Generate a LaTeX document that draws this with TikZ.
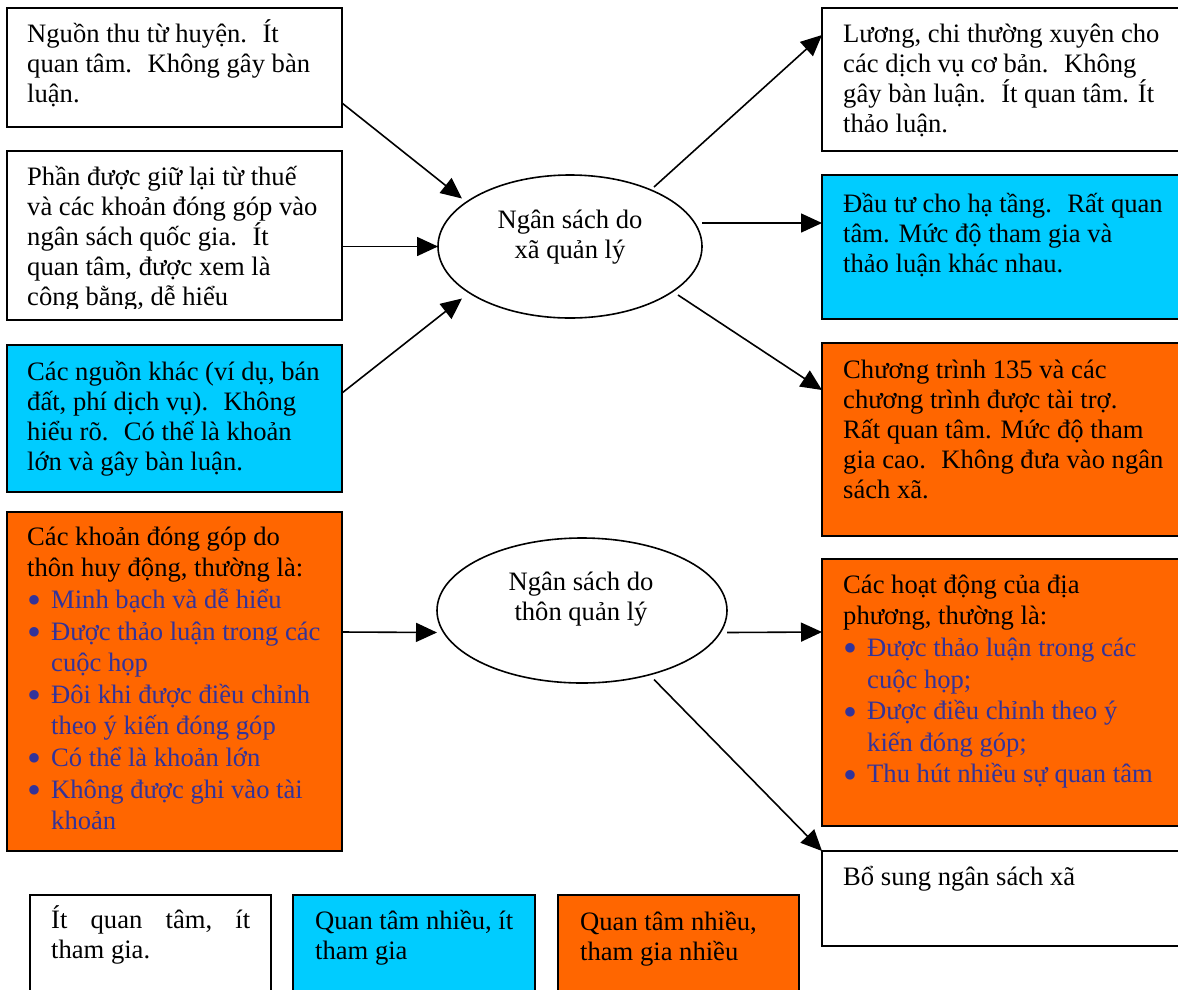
\documentclass[tikz,border=0pt]{standalone}
\usepackage{fontspec}
\usepackage{graphicx}
\setmainfont{Liberation Serif}
\usetikzlibrary{arrows.meta,calc,shapes.geometric}
\definecolor{cyanbox}{RGB}{0,204,255}
\definecolor{orangebox}{RGB}{255,102,0}
\definecolor{tblue}{RGB}{51,51,153}
\newcommand\fst{\rule{0pt}{25pt}}
\newcommand\blt{\makebox[24pt][l]{\hspace{0pt}\raisebox{-5.5pt}{\scalebox{1.5}{\textbullet}}}}
\newcommand\bind{\hspace*{24pt}}
\newcommand\fonta{\fontsize{26.6}{30}\selectfont\lineskiplimit=-100pt\relax\lineskip=0pt\relax}
\newcommand\fontb{\fontsize{26.6}{31.6}\selectfont\lineskiplimit=-100pt\relax\lineskip=0pt\relax}
\begin{document}
\begin{tikzpicture}[x=1pt,y=-1pt,
  box/.style={draw=black, line width=1.8pt, anchor=north west, inner sep=0pt, outer sep=0pt},
  txt/.style={anchor=north west, inner sep=0pt, align=left, font=\fonta},
  txtb/.style={anchor=north west, inner sep=0pt, align=left, font=\fontb},
  etxt/.style={anchor=north, inner sep=0pt, align=center, font=\fonta},
  ell/.style={draw=black, line width=1.6pt, ellipse, inner sep=0pt, outer sep=0pt},
  arr/.style={line width=1.6pt, -{Triangle[length=21pt,width=19pt]}},
]
\useasboundingbox (0,0) rectangle (1178,989);
\fill[white] (0,0) rectangle (1178,989);

% boxes
\node[box, minimum width=335pt, minimum height=119pt] (b1) at (7,8) {};
\node[box, minimum width=335pt, minimum height=169pt] (b2) at (7,151) {};
\node[box, fill=cyanbox, minimum width=335pt, minimum height=147pt] (b3) at (7,345) {};
\node[box, fill=orangebox, minimum width=335pt, minimum height=339pt] (b4) at (7,512) {};
\node[box, minimum width=380pt, minimum height=143pt] (r1) at (822,8) {};
\node[box, fill=cyanbox, minimum width=380pt, minimum height=144pt] (r2) at (822,175) {};
\node[box, fill=orangebox, minimum width=380pt, minimum height=193pt] (r3) at (822,343) {};
\node[box, fill=orangebox, minimum width=380pt, minimum height=267pt] (r4) at (822,559) {};
\node[box, minimum width=380pt, minimum height=95pt] (r5) at (822,851) {};
\node[box, minimum width=241pt, minimum height=120pt] (l1) at (30,895) {};
\node[box, fill=cyanbox, minimum width=242pt, minimum height=120pt] (l2) at (293,895) {};
\node[box, fill=orangebox, minimum width=241pt, minimum height=120pt] (l3) at (558,895) {};

% ellipses
\node[ell, minimum width=264pt, minimum height=143pt] (e1) at (570,246.5) {};
\node[ell, minimum width=290pt, minimum height=145pt] (e2) at (582,610.5) {};

% texts
\node[txt] (b1t) at (27,17) {\fst Nguồn thu từ huyện.~ Ít\\quan tâm.~ Không gây bàn\\luận.};
\begin{scope}
\clip (8,152) rectangle (341,308);
\node[txt] (b2t) at (27,160) {\fst Phần được giữ lại từ thuế\\và các khoản đóng góp vào\\ngân sách quốc gia.~ Ít\\quan tâm, được xem là\\công bằng, dễ hiểu};
\end{scope}
\node[txt] (b3t) at (27,355) {\fst Các nguồn khác (ví dụ, bán\\đất, phí dịch vụ).~ Không\\hiểu rõ.~ Có thể là khoản\\lớn và gây bàn luận.};
\node[txtb] (b4t) at (27,520) {\fst Các khoản đóng góp do\\thôn huy động, thường là:\\
  \color{tblue}\blt Minh bạch và dễ hiểu\\
  \color{tblue}\blt Được thảo luận trong các\\
  \color{tblue}\bind cuộc họp\\
  \color{tblue}\blt Đôi khi được điều chỉnh\\
  \color{tblue}\bind theo ý kiến đóng góp\\
  \color{tblue}\blt Có thể là khoản lớn\\
  \color{tblue}\blt Không được ghi vào tài\\
  \color{tblue}\bind khoản};
\node[txt] (r1t) at (843,17) {\fst Lương, chi thường xuyên cho\\các dịch vụ cơ bản.~ Không\\gây bàn luận.~ Ít quan tâm. Ít\\thảo luận.};
\node[txt] (r2t) at (843,187) {\fst Đầu tư cho hạ tầng.~ Rất quan\\tâm. Mức độ tham gia và\\thảo luận khác nhau.};
\node[txt] (r3t) at (843,353) {\fst Chương trình 135 và các\\chương trình được tài trợ.\\Rất quan tâm. Mức độ tham\\gia cao.~ Không đưa vào ngân\\sách xã.};
\node[txtb] (r4t) at (843,568) {\fst Các hoạt động của địa\\phương, thường là:\\
  \color{tblue}\blt Được thảo luận trong các\\
  \color{tblue}\bind cuộc họp;\\
  \color{tblue}\blt Được điều chỉnh theo ý\\
  \color{tblue}\bind kiến đóng góp;\\
  \color{tblue}\blt Thu hút nhiều sự quan tâm};
\node[txt] (r5t) at (843,860) {\fst Bổ sung ngân sách xã};
\node[txt] (l1t) at (51,903) {\fst\hbox to 199pt{Ít\hfil quan\hfil tâm,\hfil ít}\\tham gia.};
\node[txt] (l2t) at (315,904) {\fst Quan tâm nhiều, ít\\tham gia};
\node[txt] (l3t) at (580,905) {\fst Quan tâm nhiều,\\tham gia nhiều};
\node[etxt] (e1t) at (570,203) {\fst Ngân sách do\\xã quản lý};
\node[etxt] (e2t) at (581,565) {\fst Ngân sách do\\thôn quản lý};

% arrows
\draw[arr] ($(b1.north east)+(0,95)$) -- ($(e1.center)+(-108,-48)$);
\draw[arr] (b2.east |- e1.west) -- (e1.west);
\draw[arr] ($(b3.north east)+(0,48)$) -- ($(e1.center)+(-108,52)$);
\draw[arr] ($(e1.center)+(84,-59.5)$) -- ($(r1.north west)+(0,27)$);
\draw[arr] ($(e1.east)+(0,-23.5)$) -- ($(r2.north west)+(0,48)$);
\draw[arr] ($(e1.center)+(108,48.5)$) -- ($(r3.north west)+(0,47)$);
\draw[arr] ($(b4.north east)+(0,120)$) -- ($(e2.west)+(0,22)$);
\draw[arr] ($(e2.east)+(0,22)$) -- ($(r4.north west)+(0,73)$);
\draw[arr] ($(e2.center)+(72,69)$) -- (r5.north west);
\end{tikzpicture}
\end{document}
